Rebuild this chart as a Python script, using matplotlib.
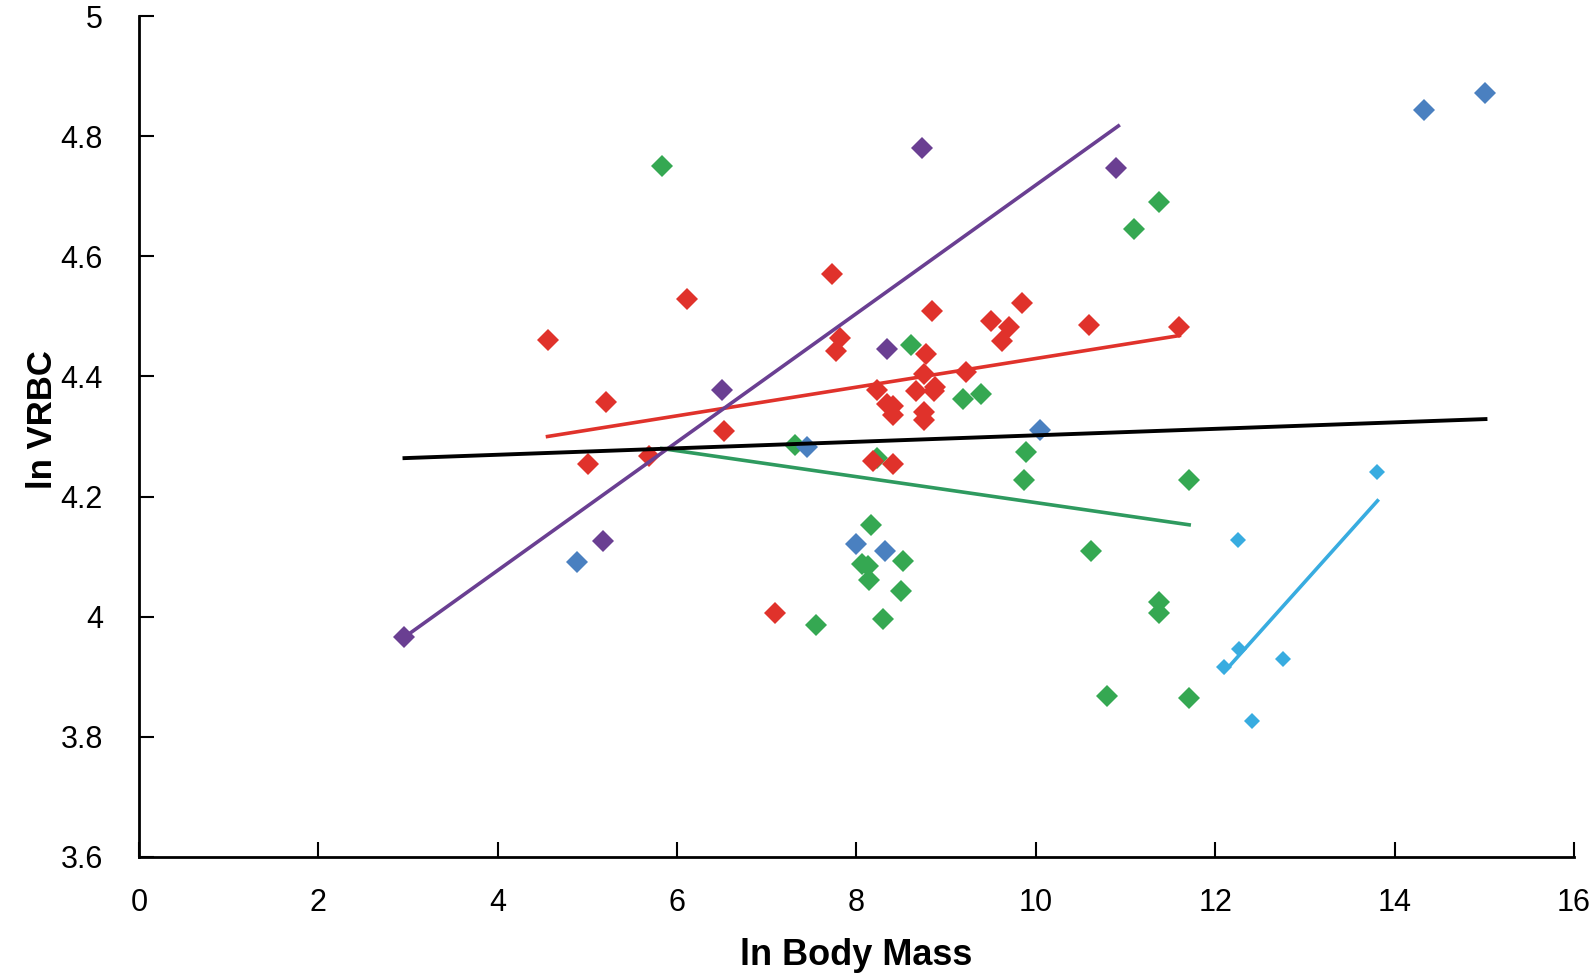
import matplotlib
matplotlib.use("Agg")
import matplotlib.pyplot as plt
import numpy as np

plt.rcParams['font.family'] = ['Liberation Sans', 'DejaVu Sans']

# ---- data ----
red_x = [4.555, 5.205, 5.009, 5.689, 6.106, 6.522, 7.091, 7.722, 7.816, 7.767,
         8.224, 8.187, 8.337, 8.410, 8.410, 8.402, 8.660, 8.771, 8.756, 8.756,
         8.756, 8.842, 8.875, 8.864, 9.219, 9.497, 9.697, 9.626, 9.849, 10.593, 11.600]
red_y = [4.460, 4.358, 4.254, 4.267, 4.529, 4.309, 4.006, 4.571, 4.464, 4.443,
         4.378, 4.260, 4.354, 4.350, 4.335, 4.254, 4.375, 4.437, 4.404, 4.340,
         4.328, 4.509, 4.382, 4.375, 4.407, 4.492, 4.483, 4.459, 4.522, 4.486, 4.483]

green_x = [5.828, 8.604, 9.192, 9.389, 7.314, 8.224, 7.548, 8.162, 8.058, 8.131,
           8.143, 8.515, 8.493, 8.291, 11.378, 11.092, 9.890, 9.868, 11.709, 10.616,
           11.378, 11.378, 10.790, 11.709]
green_y = [4.751, 4.453, 4.362, 4.371, 4.286, 4.264, 3.986, 4.153, 4.087, 4.084,
           4.061, 4.093, 4.042, 3.996, 4.691, 4.645, 4.274, 4.228, 4.228, 4.110,
           4.025, 4.006, 3.868, 3.865]

purple_x = [2.960, 5.168, 6.503, 8.337, 8.731, 10.897]
purple_y = [3.966, 4.126, 4.378, 4.446, 4.780, 4.747]

blue_x = [4.883, 7.444, 7.991, 8.317, 10.047, 14.333, 15.013]
blue_y = [4.091, 4.283, 4.121, 4.110, 4.310, 4.844, 4.871]

lblue_x = [12.255, 12.270, 12.099, 12.757, 12.407, 13.809]
lblue_y = [4.127, 3.946, 3.917, 3.930, 3.826, 4.241]

# trend lines: x range and fitted y at both ends
red_fit_x, red_fit_y = [4.555, 11.600], [4.300, 4.468]
green_fit_x, green_fit_y = [5.828, 11.709], [4.280, 4.153]
purple_fit_x, purple_fit_y = [2.960, 10.920], [3.966, 4.817]
lblue_fit_x, lblue_fit_y = [12.099, 13.809], [3.908, 4.193]
all_fit_x, all_fit_y = [2.960, 15.013], [4.264, 4.329]

x_ticks = [0, 2, 4, 6, 8, 10, 12, 14, 16]
y_ticks = [3.6, 3.8, 4.0, 4.2, 4.4, 4.6, 4.8, 5.0]
y_tick_labels = ['3.6', '3.8', '4', '4.2', '4.4', '4.6', '4.8', '5']

# ---- styling ----
C_RED = '#E0322B'
C_GREEN = '#35A852'
C_GREEN_LINE = '#2E9A5F'
C_PURPLE = '#6A3F92'
C_BLUE = '#4A80C0'
C_LBLUE = '#38ACE0'

fig = plt.figure(figsize=(15.94, 9.76), dpi=100)
ax = fig.add_axes([139/1594, 1 - 857/976, (1574 - 139)/1594, (857 - 16)/976])

big = 10.8
small = 8.0
ax.plot(green_x, green_y, 'D', color=C_GREEN, ms=big, mew=0, zorder=2)
ax.plot(red_x, red_y, 'D', color=C_RED, ms=big, mew=0, zorder=3)
ax.plot(purple_x, purple_y, 'D', color=C_PURPLE, ms=big, mew=0, zorder=3)
ax.plot(blue_x, blue_y, 'D', color=C_BLUE, ms=big, mew=0, zorder=3)
ax.plot(lblue_x, lblue_y, 'D', color=C_LBLUE, ms=small, mew=0, zorder=3)

lw = 2.6
ax.plot(red_fit_x, red_fit_y, '-', color=C_RED, lw=lw, zorder=4)
ax.plot(green_fit_x, green_fit_y, '-', color=C_GREEN_LINE, lw=lw, zorder=4)
ax.plot(purple_fit_x, purple_fit_y, '-', color=C_PURPLE, lw=lw, zorder=4)
ax.plot(lblue_fit_x, lblue_fit_y, '-', color=C_LBLUE, lw=lw, zorder=4)
ax.plot(all_fit_x, all_fit_y, '-', color='black', lw=2.8, zorder=4)

ax.set_xlim(0, 16)
ax.set_ylim(3.6, 5.0)
ax.set_xticks(x_ticks)
ax.set_xticklabels([str(t) for t in x_ticks])
ax.set_yticks(y_ticks)
ax.set_yticklabels(y_tick_labels)

for s in ['top', 'right']:
    ax.spines[s].set_visible(False)
for s in ['left', 'bottom']:
    ax.spines[s].set_linewidth(2.0)
    ax.spines[s].set_color('black')

ax.tick_params(axis='both', direction='in', length=10.8, width=1.5,
               labelsize=22, colors='black')
ax.tick_params(axis='x', pad=22)
ax.tick_params(axis='y', pad=26)

fig.text(856/1594, 1 - 965/976, 'ln Body Mass', ha='center', va='baseline',
         fontsize=26, fontweight='bold')
fig.text(42/1594, 1 - 420/976, 'ln VRBC', ha='center', va='center',
         rotation=90, fontsize=25, fontweight='bold')

fig.savefig('out.png', dpi=100)
